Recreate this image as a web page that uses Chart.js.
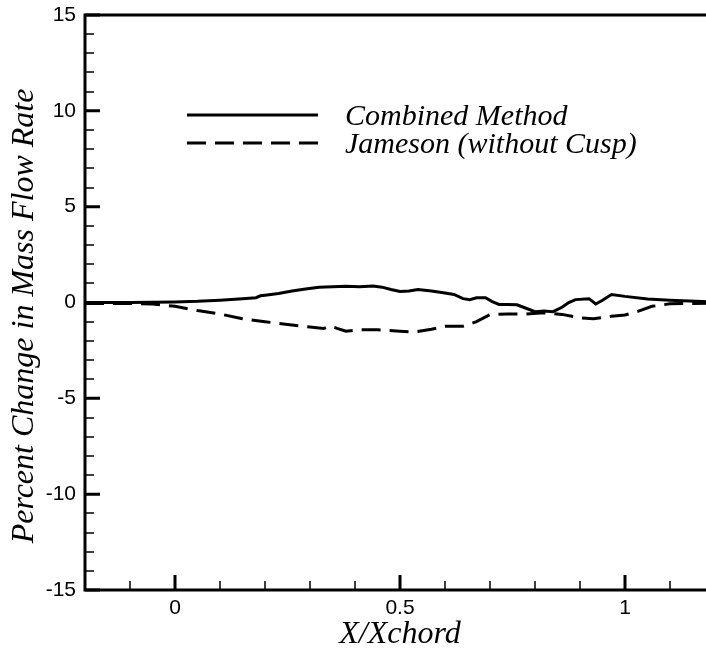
<!DOCTYPE html>
<html>
<head>
<meta charset="utf-8">
<script src="https://cdn.jsdelivr.net/npm/chart.js@4.4.1/dist/chart.umd.min.js"></script>
<style>
  html, body { margin: 0; padding: 0; background: #fff; overflow: hidden; }
  #grafico { display: block; }
</style>
</head>
<body>
<canvas id="grafico" width="720" height="649"></canvas>
<script>
// valores
const combinedX = [-0.2, -0.1, 0, 0.05, 0.1, 0.15, 0.18, 0.19, 0.2, 0.23, 0.26, 0.29, 0.32, 0.35, 0.38, 0.41, 0.44, 0.46, 0.48, 0.5, 0.52, 0.54, 0.57, 0.6, 0.62, 0.64, 0.655, 0.67, 0.69, 0.705, 0.72, 0.74, 0.76, 0.78, 0.8, 0.82, 0.84, 0.86, 0.875, 0.89, 0.92, 0.935, 0.95, 0.97, 1.0, 1.05, 1.1, 1.2];
const combinedY = [0, 0, 0.03, 0.06, 0.12, 0.2, 0.25, 0.35, 0.38, 0.47, 0.6, 0.7, 0.8, 0.82, 0.85, 0.82, 0.86, 0.8, 0.68, 0.58, 0.6, 0.68, 0.6, 0.5, 0.42, 0.2, 0.15, 0.25, 0.25, 0.05, -0.1, -0.1, -0.12, -0.3, -0.48, -0.45, -0.48, -0.25, 0.0, 0.15, 0.2, -0.08, 0.12, 0.42, 0.32, 0.18, 0.12, 0.02];

const jamesonX = [-0.2, -0.1, -0.05, 0, 0.05, 0.1, 0.15, 0.2, 0.25, 0.3, 0.33, 0.345, 0.36, 0.38, 0.41, 0.45, 0.5, 0.53, 0.57, 0.6, 0.64, 0.67, 0.7, 0.74, 0.78, 0.82, 0.86, 0.9, 0.93, 0.97, 1.0, 1.03, 1.06, 1.1, 1.15, 1.2];
const jamesonY = [-0.05, -0.05, -0.08, -0.2, -0.42, -0.6, -0.85, -1.0, -1.15, -1.28, -1.36, -1.22, -1.35, -1.5, -1.42, -1.42, -1.5, -1.55, -1.4, -1.24, -1.24, -1.0, -0.63, -0.6, -0.6, -0.54, -0.62, -0.8, -0.85, -0.72, -0.65, -0.45, -0.2, -0.07, -0.05, -0.04];

const seriesLabels = ['Combined Method', 'Jameson (without Cusp)'];

// ticks
const xMajorTicks = [0, 0.5, 1];
const xMinorTicks = [-0.1, 0.1, 0.2, 0.3, 0.4, 0.6, 0.7, 0.8, 0.9, 1.1];
const yMajorTicks = [-15, -10, -5, 0, 5, 10, 15];
const yMinorTicks = [-14, -13, -12, -11, -9, -8, -7, -6, -4, -3, -2, -1, 1, 2, 3, 4, 6, 7, 8, 9, 11, 12, 13, 14];

const xTitle = 'X/Xchord';
const yTitle = 'Percent Change in Mass Flow Rate';

const fonteTitulo = 'italic 32px "Liberation Serif", "Times New Roman", serif';
const fonteLegenda = 'italic 30px "Liberation Serif", "Times New Roman", serif';
const fonteTicks = { family: '"Liberation Sans", Arial, Helvetica, sans-serif', size: 21 };

function montarPontos(xs, ys) {
  return xs.map((x, i) => ({ x: x, y: ys[i] }));
}

// moldura estilo tecplot: caixa, ticks para dentro, titulos e legenda
const molduraPlugin = {
  id: 'moldura',
  afterDraw(chart) {
    const { ctx, chartArea } = chart;
    const sx = chart.scales.x;
    const sy = chart.scales.y;
    const { left, right, top, bottom } = chartArea;

    ctx.save();
    ctx.strokeStyle = '#000';
    ctx.lineCap = 'butt';

    // ticks menores
    ctx.lineWidth = 1.5;
    ctx.beginPath();
    xMinorTicks.forEach(v => {
      const px = Math.round(sx.getPixelForValue(v));
      ctx.moveTo(px, bottom);
      ctx.lineTo(px, bottom - 9);
    });
    yMinorTicks.forEach(v => {
      const py = Math.round(sy.getPixelForValue(v));
      ctx.moveTo(left, py);
      ctx.lineTo(left + 9, py);
    });
    ctx.stroke();

    // ticks maiores
    ctx.lineWidth = 3;
    ctx.beginPath();
    xMajorTicks.forEach(v => {
      const px = sx.getPixelForValue(v);
      ctx.moveTo(px, bottom);
      ctx.lineTo(px, bottom - 15);
    });
    yMajorTicks.forEach(v => {
      const py = sy.getPixelForValue(v);
      ctx.moveTo(left, py);
      ctx.lineTo(left + 15, py);
    });
    ctx.stroke();

    // caixa
    ctx.lineWidth = 3;
    ctx.strokeRect(left, top, right - left, bottom - top);

    // titulos dos eixos
    ctx.fillStyle = '#000';
    ctx.font = fonteTitulo;
    ctx.textAlign = 'center';
    ctx.textBaseline = 'alphabetic';
    ctx.fillText(xTitle, (left + right) / 2, 643);

    ctx.save();
    ctx.translate(33, 316);
    ctx.rotate(-Math.PI / 2);
    ctx.fillText(yTitle, 0, 0);
    ctx.restore();

    // legenda
    ctx.font = fonteLegenda;
    const legendaY = [115, 143];
    chart.data.datasets.forEach((ds, i) => {
      ctx.lineWidth = ds.borderWidth;
      ctx.setLineDash(ds.borderDash || []);
      ctx.beginPath();
      ctx.moveTo(187, legendaY[i]);
      ctx.lineTo(318, legendaY[i]);
      ctx.stroke();
      ctx.setLineDash([]);
      ctx.textAlign = 'left';
      ctx.fillText(ds.label, 345, legendaY[i] + 10);
    });

    ctx.restore();
  }
};

const ctx = document.getElementById('grafico').getContext('2d');
new Chart(ctx, {
  type: 'line',
  data: {
    datasets: [
      {
        label: seriesLabels[0],
        data: montarPontos(combinedX, combinedY),
        borderColor: '#000',
        borderWidth: 3,
        pointRadius: 0,
        tension: 0,
        fill: false
      },
      {
        label: seriesLabels[1],
        data: montarPontos(jamesonX, jamesonY),
        borderColor: '#000',
        borderWidth: 3,
        borderDash: [19, 9],
        pointRadius: 0,
        tension: 0,
        fill: false
      }
    ]
  },
  options: {
    responsive: false,
    animation: false,
    devicePixelRatio: 1,
    layout: { padding: { top: 15, right: 5, left: 0, bottom: 0 } },
    plugins: {
      legend: { display: false },
      tooltip: { enabled: false }
    },
    scales: {
      x: {
        type: 'linear',
        min: -0.2,
        max: 1.2,
        grid: { display: false, drawTicks: false },
        border: { display: false },
        afterBuildTicks: scale => { scale.ticks = xMajorTicks.map(v => ({ value: v })); },
        afterFit: scale => {
          scale.height = 59;
          scale.paddingLeft = 0;
          scale.paddingRight = 0;
        },
        ticks: {
          color: '#000',
          font: fonteTicks,
          padding: 6,
          maxRotation: 0,
          callback: v => String(v)
        }
      },
      y: {
        type: 'linear',
        min: -15,
        max: 15,
        grid: { display: false, drawTicks: false },
        border: { display: false },
        afterBuildTicks: scale => { scale.ticks = yMajorTicks.map(v => ({ value: v })); },
        afterFit: scale => {
          scale.width = 85;
          scale.paddingTop = 0;
          scale.paddingBottom = 0;
        },
        ticks: {
          color: '#000',
          font: fonteTicks,
          padding: 9,
          callback: v => String(v)
        }
      }
    }
  },
  plugins: [molduraPlugin]
});
</script>
</body>
</html>
